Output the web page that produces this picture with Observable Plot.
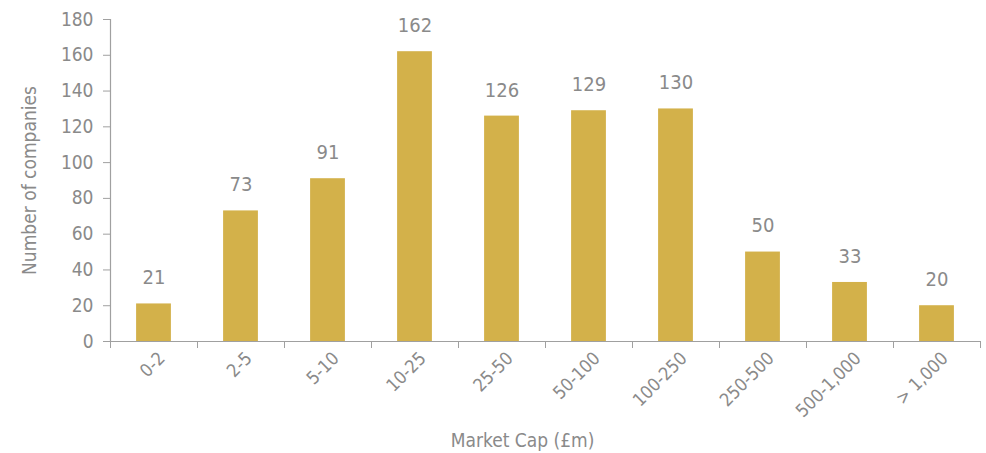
<!DOCTYPE html>
<html><head><meta charset="utf-8">
<script src="https://cdn.jsdelivr.net/npm/d3@7"></script>
<script src="https://cdn.jsdelivr.net/npm/@observablehq/plot@0.6"></script>
<style>
html,body{margin:0;padding:0;background:#fff;}
#chart svg{display:block;}
</style></head>
<body><div id="chart"></div>
<script>
const categories = ["0-2","2-5","5-10","10-25","25-50","50-100","100-250","250-500","500-1,000","> 1,000"];
const companies = [21, 73, 91, 162, 126, 129, 130, 50, 33, 20];
const yTicks = [0,20,40,60,80,100,120,140,160,180];
const xTitle = "Market Cap (£m)";
const yTitle = "Number of companies";

const data = categories.map((c, i) => ({cat: c, i, value: companies[i]}));
const font = '"Liberation Sans Narrow", "DejaVu Sans Condensed", "Roboto", sans-serif';
const gray = "#8a8a8a";
const axisGray = "#a0a0a0";
const gold = "#d3b14a";

const chart = Plot.plot({
  width: 986,
  height: 453,
  marginLeft: 110,
  marginRight: 6,
  marginTop: 19,
  marginBottom: 112,
  style: {fontFamily: font, fontSize: "19px", color: gray, background: "#fff"},
  x: {type: "linear", domain: [0, categories.length]},
  y: {domain: [0, 180]},
  marks: [
    Plot.rectY(data, {x1: d => d.i + 0.3, x2: d => d.i + 0.7, y1: 0, y2: "value", fill: gold}),
    Plot.text(data, {x: d => d.i + 0.5, y: "value", text: d => String(d.value), dy: -26, fill: gray, fontSize: 20, lineAnchor: "middle"}),
    Plot.ruleY([0], {stroke: axisGray, strokeWidth: 1.2}),
    Plot.ruleX([0], {y1: 0, y2: 180, stroke: axisGray, strokeWidth: 1.2}),
    Plot.axisY({ticks: yTicks, tickSize: 7, tickPadding: 10, stroke: axisGray, fill: gray, fontSize: 19,
      label: yTitle, labelAnchor: "center", labelArrow: "none", labelOffset: 88}),
    Plot.axisX({ticks: d3.range(0, categories.length + 1), tickSize: 7, tickFormat: () => "", stroke: axisGray, label: null}),
    Plot.axisX({ticks: categories.map((c, i) => i + 0.5), tickSize: 0, tickPadding: 14,
      tickFormat: v => categories[Math.floor(v)], tickRotate: -45, fill: gray, fontSize: 18, dx: 8, label: null}),
    Plot.text([xTitle], {frameAnchor: "bottom", dy: 99, dx: -23, fill: gray, fontSize: 19, lineAnchor: "middle"})
  ]
});
document.getElementById("chart").append(chart);
</script>
</body></html>
